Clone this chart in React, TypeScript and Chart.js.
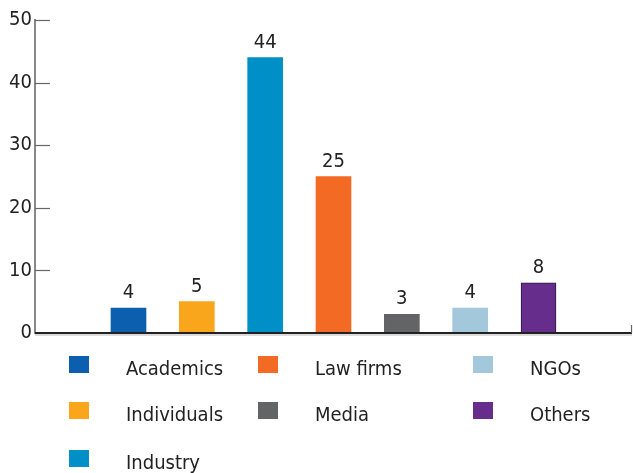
import React, { useEffect, useRef } from "react";
import { Chart, registerables } from "chart.js";

Chart.register(...registerables);

const categories = ["Academics", "Individuals", "Industry", "Law firms", "Media", "NGOs", "Others"];
const values = [4, 5, 44, 25, 3, 4, 8];
const colors = ["#0b5fae", "#f9a61d", "#0090c8", "#f26a24", "#636466", "#a3c8dc", "#662d8c"];
const borderColors = ["#0b5fae", "#f9a61d", "#0090c8", "#f26a24", "#636466", "#a3c8dc", "#2a1a3a"];
const borderWidths = [0, 0, 0, 0, 0, 0, 1];
const yTicks = [0, 10, 20, 30, 40, 50];
// legend placement: column and row of each category
const legendCol = [0, 0, 0, 1, 1, 2, 2];
const legendRow = [0, 1, 2, 0, 1, 0, 1];

const FONT = "'DejaVu Sans Condensed', 'DejaVu Sans', sans-serif";
const FONT_SIZE = 20;

const legendColLeft = [69, 258, 473];
const legendTextLeft = [126, 315, 530];
const legendRowTop = [356, 402, 450];

const decorPlugin = {
  id: "decor",
  afterDraw(chart: any) {
    const { ctx, chartArea } = chart;
    const y = chart.scales.y;
    ctx.save();
    ctx.strokeStyle = "#666";
    ctx.lineWidth = 1.2;
    y.ticks.forEach((t: any) => {
      const py = Math.round(y.getPixelForValue(t.value)) + 0.5;
      ctx.beginPath();
      ctx.moveTo(chartArea.left, py);
      ctx.lineTo(chartArea.left + 15, py);
      ctx.stroke();
    });
    ctx.strokeStyle = "#d0d0d0";
    ctx.lineWidth = 1.5;
    ctx.beginPath();
    ctx.moveTo(chartArea.left, chartArea.bottom + 2);
    ctx.lineTo(chartArea.right, chartArea.bottom + 2);
    ctx.stroke();
    ctx.strokeStyle = "#222";
    ctx.lineWidth = 2;
    ctx.beginPath();
    ctx.moveTo(chartArea.left, chartArea.bottom);
    ctx.lineTo(chartArea.right, chartArea.bottom);
    ctx.stroke();
    ctx.strokeStyle = "#666";
    ctx.lineWidth = 1.2;
    ctx.beginPath();
    ctx.moveTo(chartArea.right - 0.5, chartArea.bottom - 8);
    ctx.lineTo(chartArea.right - 0.5, chartArea.bottom);
    ctx.stroke();
    ctx.fillStyle = "#222";
    ctx.font = `${FONT_SIZE}px ${FONT}`;
    ctx.textAlign = "center";
    ctx.textBaseline = "alphabetic";
    const meta = chart.getDatasetMeta(0);
    meta.data.forEach((bar: any, i: number) => {
      ctx.fillText(String(values[i]), bar.x, bar.y - 10);
    });
    ctx.restore();
  },
};

export default function App() {
  const ref = useRef<HTMLCanvasElement>(null);

  useEffect(() => {
    if (!ref.current) return;
    const chart = new Chart(ref.current, {
      type: "bar",
      data: {
        datasets: [
          {
            data: values.map((v, i) => ({ x: i + 1, y: v })),
            backgroundColor: colors,
            borderColor: borderColors,
            borderWidth: borderWidths,
            barThickness: 35,
          },
        ],
      },
      plugins: [decorPlugin],
      options: {
        animation: false,
        responsive: false,
        maintainAspectRatio: false,
        layout: { padding: { top: 20, right: 1, bottom: 140, left: 0 } },
        plugins: {
          legend: { display: false },
          tooltip: { enabled: false },
        },
        scales: {
          x: {
            type: "linear",
            min: -0.368,
            max: 8.368,
            offset: false,
            display: false,
            grid: { display: false, offset: false },
          },
          y: {
            min: yTicks[0],
            max: yTicks[yTicks.length - 1],
            afterFit: (scale: any) => {
              scale.width = 35;
            },
            afterBuildTicks: (scale: any) => {
              scale.ticks = yTicks.map((v) => ({ value: v }));
            },
            grid: { display: false, drawTicks: false },
            border: { display: true, color: "#888", width: 2 },
            ticks: {
              padding: 3,
              color: "#222",
              font: { family: FONT, size: FONT_SIZE },
            },
          },
        },
      },
    });
    return () => chart.destroy();
  }, []);

  return (
    <div style={{ position: "fixed", left: 0, top: 0, width: 633, height: 473, background: "#fff" }}>
      <canvas ref={ref} width={633} height={473} style={{ position: "absolute", left: 0, top: 0 }} />
      {categories.map((c, i) => {
        const col = legendCol[i];
        const row = legendRow[i];
        return (
          <React.Fragment key={c}>
            <div
              style={{
                position: "absolute",
                left: legendColLeft[col],
                top: legendRowTop[row],
                width: 20,
                height: 17,
                background: colors[i],
              }}
            />
            <div
              style={{
                position: "absolute",
                left: legendTextLeft[col],
                top: legendRowTop[row] + 2,
                fontFamily: FONT,
                fontSize: FONT_SIZE,
                lineHeight: `${FONT_SIZE}px`,
                color: "#222",
                whiteSpace: "nowrap",
              }}
            >
              {c}
            </div>
          </React.Fragment>
        );
      })}
    </div>
  );
}
